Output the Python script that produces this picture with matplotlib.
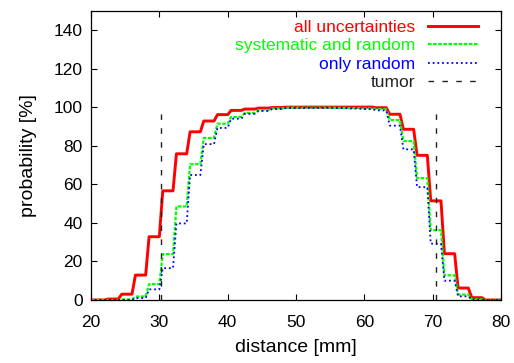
import numpy as np
import matplotlib
matplotlib.use("Agg")
import matplotlib.pyplot as plt

plt.rcParams['font.family'] = ['Liberation Sans', 'DejaVu Sans']

# Dose is binned in 2 mm voxels; each bin is a flat plateau of 1.5 mm
block_start = [18.5, 20.5, 22.5, 24.5, 26.5, 28.5, 30.5, 32.5, 34.5, 36.5,
               38.5, 40.5, 42.5, 44.5, 46.5, 48.5,
               51.7, 53.7, 55.7, 57.7, 59.7, 61.7, 63.7, 65.7, 67.7, 69.7,
               71.7, 73.7, 75.7, 77.7, 79.7]
block_len = 1.5

p_all = [0, 0, 0.5, 3.0, 12.9, 32.8, 56.6, 75.8, 87.2, 92.8,
         96.1, 98.3, 99.0, 99.5, 99.8, 100,
         100, 100, 100, 100, 100, 99.7, 96.3, 88.5, 75.0, 51.4,
         24.0, 6.2, 1.2, 0, 0]
p_sys_rand = [0, 0, 0, 0.3, 1.8, 8.2, 23.8, 48.5, 70.4, 84.0,
              91.4, 94.9, 97.0, 98.5, 99.3, 99.7,
              99.7, 99.7, 99.6, 99.5, 99.3, 99.0, 93.3, 82.4, 63.2, 36.2,
              12.8, 2.8, 0.4, 0, 0]
p_rand = [0, 0, 0, 0, 1.0, 5.5, 16.5, 39.7, 64.8, 80.8,
          89.2, 94.0, 96.5, 98.0, 99.0, 99.5,
          99.6, 99.6, 99.5, 99.3, 99.0, 98.3, 90.4, 78.1, 58.5, 29.2,
          10.0, 1.9, 0.2, 0, 0]

tumor_edges = [30.3, 70.4]
tumor_height = 98

labels = ["all uncertainties", "systematic and random", "only random", "tumor"]


def plateau_xy(starts, values, width):
    s = np.asarray(starts, dtype=float)
    x = np.column_stack([s, s + width]).ravel()
    y = np.repeat(np.asarray(values, dtype=float), 2)
    return x, y


fig = plt.figure(figsize=(5.14, 3.63), dpi=100)
ax = fig.add_axes([0.177, 0.1736, 0.798, 0.797])

x, y = plateau_xy(block_start, p_all, block_len)
ax.plot(x, y, color='#ff0000', lw=2.1, label=labels[0])
x, y = plateau_xy(block_start, p_sys_rand, block_len)
ax.plot(x, y, color='#00ff00', lw=1.6, dashes=(1.6, 0.7), label=labels[1])
x, y = plateau_xy(block_start, p_rand, block_len)
ax.plot(x, y, color='#0000ff', lw=1.3, dashes=(1.0, 1.6), label=labels[2])
for i, xe in enumerate(tumor_edges):
    ax.plot([xe, xe], [0, tumor_height], color='#222222', lw=1.0,
            dashes=(4, 6), label=labels[3] if i == 0 else None)

ax.set_xlim(20, 80)
ax.set_ylim(0, 150)
ax.set_xticks(np.arange(20, 81, 10))
ax.set_yticks(np.arange(0, 141, 20))
ax.tick_params(direction='in', length=4, width=0.8, top=True, right=True,
               labelsize=12.5)
ax.tick_params(axis='x', pad=11)
ax.tick_params(axis='y', pad=6)
for sp in ax.spines.values():
    sp.set_linewidth(0.9)

ax.set_xlabel("distance [mm]", fontsize=14, labelpad=6)
ax.set_ylabel("probability [%]", fontsize=14, labelpad=12)

leg = ax.legend(loc='upper right', frameon=False, markerfirst=False,
                labelcolor='linecolor', fontsize=12.5, handlelength=2.9,
                handletextpad=0.75, labelspacing=0.18,
                borderpad=0, borderaxespad=0,
                bbox_to_anchor=(0.944, 0.968))
# right-align legend entries
for col in leg._legend_handle_box.get_children():
    col.align = 'right'

fig.savefig("out.png", dpi=100)
